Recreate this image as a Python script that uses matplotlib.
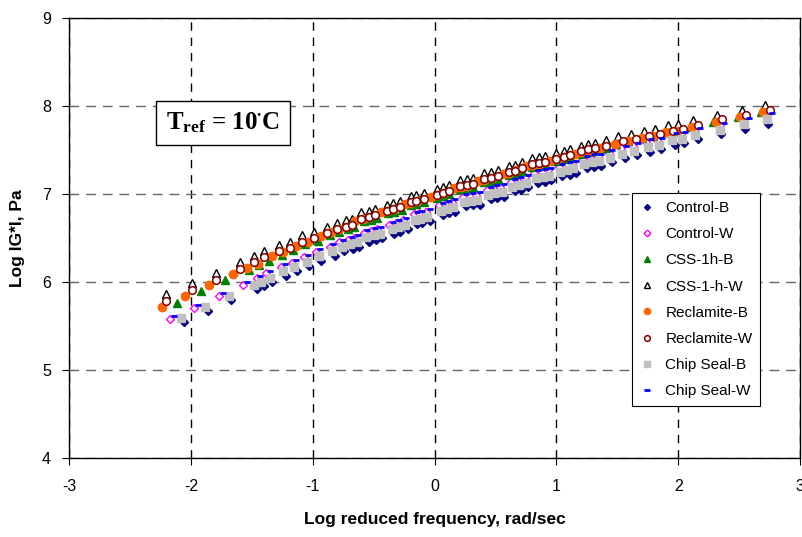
import matplotlib
matplotlib.use("Agg")
import matplotlib.pyplot as plt

plt.rcParams['font.family'] = ['Liberation Sans', 'DejaVu Sans']
plt.rcParams['axes.unicode_minus'] = False
plt.rcParams['mathtext.fontset'] = 'custom'
plt.rcParams['mathtext.rm'] = 'Liberation Serif:bold'
plt.rcParams['mathtext.it'] = 'Liberation Serif:bold'
plt.rcParams['mathtext.bf'] = 'Liberation Serif:bold'

# --- data (log reduced frequency, log |G*|) ---
x_css_w = [-2.20, -1.99, -1.79, -1.60, -1.48, -1.40, -1.28, -1.19, -1.09, -0.99, -0.88, -0.80, -0.73, -0.68,
           -0.60, -0.54, -0.49, -0.39, -0.34, -0.28, -0.19, -0.15, -0.09, 0.02, 0.07, 0.12, 0.21, 0.27, 0.32,
           0.41, 0.46, 0.52, 0.61, 0.66, 0.72, 0.80, 0.86, 0.91, 1.00, 1.06, 1.11, 1.20, 1.26, 1.32, 1.41,
           1.51, 1.61, 1.72, 1.81, 1.92, 2.00, 2.12, 2.32, 2.52, 2.71]
y_css_w = [5.86, 5.99, 6.10, 6.23, 6.30, 6.35, 6.42, 6.46, 6.53, 6.57, 6.63, 6.67, 6.70, 6.72, 6.79, 6.81,
           6.83, 6.88, 6.90, 6.92, 6.98, 6.99, 7.01, 7.06, 7.08, 7.10, 7.16, 7.17, 7.18, 7.24, 7.25, 7.27,
           7.32, 7.33, 7.36, 7.41, 7.42, 7.43, 7.47, 7.49, 7.51, 7.55, 7.57, 7.58, 7.61, 7.66, 7.68, 7.72,
           7.74, 7.78, 7.80, 7.84, 7.90, 7.95, 8.01]

x_rec_w = [-2.20, -1.99, -1.79, -1.60, -1.48, -1.40, -1.28, -1.19, -1.09, -0.99, -0.88, -0.80, -0.73, -0.68,
           -0.60, -0.54, -0.49, -0.39, -0.34, -0.28, -0.19, -0.15, -0.09, 0.02, 0.07, 0.12, 0.21, 0.27, 0.32,
           0.41, 0.46, 0.52, 0.61, 0.66, 0.72, 0.80, 0.86, 0.91, 1.00, 1.06, 1.11, 1.20, 1.26, 1.32, 1.41,
           1.55, 1.65, 1.76, 1.85, 1.96, 2.04, 2.16, 2.36, 2.56, 2.75]
y_rec_w = [5.78, 5.91, 6.02, 6.15, 6.23, 6.28, 6.35, 6.39, 6.46, 6.50, 6.56, 6.60, 6.63, 6.65, 6.72, 6.74,
           6.76, 6.81, 6.83, 6.85, 6.91, 6.92, 6.94, 6.99, 7.01, 7.03, 7.09, 7.10, 7.11, 7.17, 7.18, 7.20,
           7.25, 7.26, 7.29, 7.34, 7.35, 7.36, 7.40, 7.42, 7.44, 7.49, 7.51, 7.52, 7.55, 7.60, 7.62, 7.66,
           7.68, 7.72, 7.74, 7.78, 7.85, 7.90, 7.96]

x_rec_b = [-2.24, -2.05, -1.85, -1.65, -1.54, -1.45, -1.33, -1.24, -1.14, -1.04, -0.93, -0.85, -0.78, -0.73,
           -0.65, -0.59, -0.54, -0.44, -0.39, -0.33, -0.24, -0.20, -0.14, -0.03, 0.02, 0.07, 0.16, 0.22, 0.27,
           0.36, 0.41, 0.47, 0.56, 0.61, 0.67, 0.75, 0.81, 0.86, 0.95, 1.01, 1.06, 1.15, 1.21, 1.27, 1.36,
           1.48, 1.59, 1.70, 1.79, 1.90, 1.99, 2.11, 2.31, 2.51, 2.70]
y_rec_b = [5.72, 5.84, 5.97, 6.09, 6.16, 6.21, 6.29, 6.34, 6.41, 6.46, 6.52, 6.57, 6.60, 6.62, 6.69, 6.72,
           6.74, 6.79, 6.81, 6.83, 6.89, 6.90, 6.92, 6.97, 6.99, 7.01, 7.07, 7.08, 7.09, 7.15, 7.16, 7.18,
           7.23, 7.24, 7.27, 7.32, 7.33, 7.34, 7.38, 7.40, 7.42, 7.46, 7.48, 7.49, 7.52, 7.57, 7.60, 7.64,
           7.66, 7.70, 7.72, 7.76, 7.82, 7.87, 7.93]

x_css_b = [-2.11, -1.92, -1.72, -1.52, -1.44, -1.36, -1.25, -1.16, -1.06, -0.96, -0.86, -0.78, -0.71, -0.66,
           -0.58, -0.52, -0.47, -0.38, -0.33, -0.27, -0.19, -0.15, -0.09, 0.02, 0.07, 0.12, 0.21, 0.27, 0.32,
           0.41, 0.46, 0.52, 0.61, 0.66, 0.72, 0.80, 0.86, 0.91, 1.00, 1.06, 1.11, 1.20, 1.26, 1.32, 1.41,
           1.49, 1.59, 1.70, 1.79, 1.90, 1.98, 2.10, 2.29, 2.49, 2.68]
y_css_b = [5.76, 5.90, 6.02, 6.14, 6.19, 6.24, 6.31, 6.36, 6.43, 6.47, 6.53, 6.57, 6.60, 6.62, 6.69, 6.71,
           6.73, 6.78, 6.80, 6.82, 6.88, 6.89, 6.91, 6.96, 6.98, 7.00, 7.06, 7.07, 7.08, 7.14, 7.15, 7.17,
           7.22, 7.23, 7.26, 7.31, 7.32, 7.33, 7.37, 7.40, 7.42, 7.46, 7.48, 7.49, 7.52, 7.57, 7.60, 7.64,
           7.66, 7.70, 7.72, 7.76, 7.82, 7.87, 7.93]

x_ctl_w = [-2.17, -1.97, -1.77, -1.57, -1.46, -1.38, -1.26, -1.17, -1.07, -0.97, -0.86, -0.78, -0.71, -0.66,
           -0.58, -0.52, -0.47, -0.37, -0.32, -0.26, -0.17, -0.13, -0.07, 0.04, 0.09, 0.14, 0.23, 0.29, 0.34,
           0.43, 0.48, 0.54, 0.63, 0.68, 0.74, 0.82, 0.88, 0.93, 1.02, 1.08, 1.13, 1.22, 1.28, 1.34, 1.43,
           1.53, 1.63, 1.74, 1.83, 1.94, 2.02, 2.14, 2.34, 2.54, 2.73]
y_ctl_w = [5.58, 5.71, 5.84, 5.97, 6.04, 6.10, 6.17, 6.22, 6.28, 6.34, 6.40, 6.45, 6.48, 6.50, 6.56, 6.58,
           6.60, 6.65, 6.67, 6.70, 6.77, 6.78, 6.80, 6.87, 6.89, 6.91, 6.97, 6.98, 6.99, 7.05, 7.07, 7.08,
           7.14, 7.16, 7.19, 7.24, 7.25, 7.27, 7.31, 7.33, 7.35, 7.40, 7.42, 7.43, 7.47, 7.52, 7.55, 7.59,
           7.61, 7.66, 7.68, 7.72, 7.78, 7.83, 7.89]

x_chip_w = [-2.14, -1.94, -1.74, -1.54, -1.43, -1.35, -1.23, -1.14, -1.04, -0.94, -0.83, -0.75, -0.68, -0.63,
            -0.55, -0.49, -0.44, -0.34, -0.29, -0.23, -0.14, -0.10, -0.04, 0.07, 0.12, 0.17, 0.26, 0.32, 0.37,
            0.46, 0.51, 0.57, 0.66, 0.71, 0.77, 0.85, 0.91, 0.96, 1.05, 1.11, 1.16, 1.25, 1.31, 1.37, 1.46,
            1.57, 1.67, 1.78, 1.87, 1.98, 2.06, 2.18, 2.38, 2.58, 2.77]
y_chip_w = [5.61, 5.74, 5.87, 6.00, 6.07, 6.13, 6.20, 6.25, 6.31, 6.37, 6.43, 6.48, 6.51, 6.53, 6.59, 6.61,
            6.63, 6.68, 6.70, 6.73, 6.80, 6.81, 6.83, 6.90, 6.92, 6.94, 7.00, 7.01, 7.02, 7.08, 7.10, 7.11,
            7.17, 7.19, 7.22, 7.27, 7.28, 7.30, 7.34, 7.36, 7.38, 7.43, 7.45, 7.46, 7.50, 7.55, 7.58, 7.62,
            7.64, 7.69, 7.71, 7.75, 7.81, 7.86, 7.92]

x_chip_b = [-2.08, -1.88, -1.69, -1.48, -1.42, -1.35, -1.24, -1.15, -1.05, -0.95, -0.84, -0.76, -0.69, -0.64,
            -0.56, -0.50, -0.45, -0.35, -0.30, -0.24, -0.16, -0.12, -0.06, 0.05, 0.10, 0.15, 0.24, 0.30, 0.35,
            0.44, 0.49, 0.55, 0.64, 0.69, 0.75, 0.83, 0.89, 0.94, 1.03, 1.09, 1.14, 1.23, 1.29, 1.35, 1.44,
            1.54, 1.64, 1.75, 1.84, 1.95, 2.03, 2.14, 2.34, 2.54, 2.73]
y_chip_b = [5.59, 5.72, 5.84, 5.97, 6.00, 6.05, 6.12, 6.17, 6.23, 6.29, 6.35, 6.40, 6.43, 6.45, 6.51, 6.53,
            6.55, 6.60, 6.62, 6.65, 6.71, 6.72, 6.74, 6.81, 6.83, 6.85, 6.91, 6.92, 6.93, 6.99, 7.01, 7.02,
            7.08, 7.10, 7.13, 7.18, 7.19, 7.21, 7.25, 7.27, 7.29, 7.34, 7.36, 7.37, 7.41, 7.46, 7.49, 7.53,
            7.56, 7.61, 7.63, 7.67, 7.73, 7.79, 7.85]

x_ctl_b = [-2.06, -1.86, -1.67, -1.46, -1.40, -1.33, -1.22, -1.13, -1.03, -0.93, -0.82, -0.74, -0.67, -0.62,
           -0.54, -0.48, -0.43, -0.33, -0.28, -0.22, -0.14, -0.10, -0.04, 0.07, 0.12, 0.17, 0.26, 0.32, 0.37,
           0.46, 0.51, 0.57, 0.66, 0.71, 0.77, 0.85, 0.91, 0.96, 1.05, 1.11, 1.16, 1.25, 1.31, 1.37, 1.46,
           1.56, 1.66, 1.77, 1.86, 1.97, 2.05, 2.16, 2.35, 2.55, 2.74]
y_ctl_b = [5.54, 5.67, 5.79, 5.92, 5.95, 6.00, 6.07, 6.12, 6.18, 6.24, 6.30, 6.35, 6.38, 6.40, 6.46, 6.48,
           6.50, 6.55, 6.57, 6.60, 6.66, 6.67, 6.69, 6.76, 6.78, 6.80, 6.86, 6.87, 6.88, 6.94, 6.96, 6.97,
           7.03, 7.05, 7.08, 7.13, 7.14, 7.16, 7.20, 7.22, 7.24, 7.29, 7.31, 7.32, 7.36, 7.41, 7.44, 7.48,
           7.51, 7.56, 7.58, 7.62, 7.68, 7.74, 7.80]

fig = plt.figure(figsize=(8.02, 5.37), dpi=100)
ax = fig.add_axes([69 / 802, 79 / 537, 731 / 802, 440 / 537])

# estilo dos marcadores (estilo Excel)
series = [
    ('Control-B', x_ctl_b, y_ctl_b, dict(marker='D', ms=4, mfc='#000080', mec='#000080')),
    ('Control-W', x_ctl_w, y_ctl_w, dict(marker='D', ms=4.5, mfc='white', mec='#FF00FF', mew=1.0)),
    ('CSS-1h-B', x_css_b, y_css_b, dict(marker='^', ms=6, mfc='#008000', mec='#008000')),
    ('CSS-1-h-W', x_css_w, y_css_w, dict(marker='^', ms=6, mfc='white', mec='black', mew=1.0)),
    ('Reclamite-B', x_rec_b, y_rec_b, dict(marker='o', ms=6, mfc='#FF6600', mec='#FF6600')),
    ('Reclamite-W', x_rec_w, y_rec_w, dict(marker='o', ms=5.5, mfc='white', mec='#800000', mew=1.1)),
    ('Chip Seal-B', x_chip_b, y_chip_b, dict(marker='s', ms=5.5, mfc='#C0C0C0', mec='#C0C0C0')),
    ('Chip Seal-W', x_chip_w, y_chip_w, dict(marker='_', ms=5, mec='#0000FF', mew=2.0)),
]
for nome, xs, ys, st in series:
    ax.plot(xs, ys, linestyle='none', label=nome, **st)

ax.set_xlim(-3, 3)
ax.set_ylim(4, 9)
ax.set_xticks(range(-3, 4))
ax.set_yticks(range(4, 10))
ax.tick_params(direction='out', length=5, labelsize=11.5, colors='black')
ax.tick_params(axis='x', pad=10)
ax.tick_params(axis='y', pad=8)
ax.grid(True, axis='x', color='black', linestyle=(0, (6, 5)), linewidth=1.0)
ax.grid(True, axis='y', color='#666666', linestyle=(0, (7, 5)), linewidth=1.0)
ax.set_axisbelow(True)
for s in ax.spines.values():
    s.set_linewidth(1.0)

ax.set_xlabel('Log reduced frequency, rad/sec', fontsize=12.5, fontweight='bold', labelpad=13)
ax.set_ylabel('Log IG*I, Pa', fontsize=12.5, fontweight='bold', labelpad=12)

ax.text(0.211, 0.761, r'$\mathrm{T_{ref}}$ = 10$^{\bullet}$C', transform=ax.transAxes,
        fontsize=18, ha='center', va='center', family='Liberation Serif', fontweight='bold',
        bbox=dict(boxstyle='square,pad=0.4', facecolor='white', edgecolor='black', linewidth=1.0))

leg = ax.legend(loc='lower left', bbox_to_anchor=(0.770, 0.118), fontsize=11, frameon=True,
                fancybox=False, edgecolor='black', framealpha=1, markerscale=0.75,
                handlelength=1.0, handletextpad=0.7, labelspacing=0.8, borderpad=0.5,
                borderaxespad=0)
leg.get_frame().set_linewidth(0.8)

plt.savefig('out.png', dpi=100)
